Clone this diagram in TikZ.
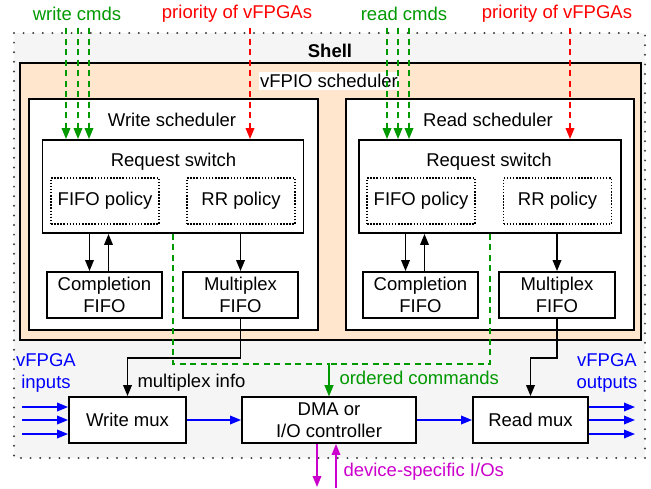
\documentclass[tikz,border=0pt]{standalone}
\usepackage{fontspec}
\setmainfont{Liberation Sans}
\usetikzlibrary{arrows.meta}
\definecolor{cmdgreen}{RGB}{0, 153, 0}
\definecolor{prired}{RGB}{255, 0, 0}
\definecolor{datablue}{RGB}{0, 0, 255}
\definecolor{iomagenta}{RGB}{204, 0, 204}
\definecolor{shellgray}{RGB}{245, 245, 245}
\definecolor{schedorange}{RGB}{255, 230, 204}
\tikzset{>={Triangle[length=11pt, width=8.5pt]}}

\begin{document}
\begin{tikzpicture}[
    x = 1pt, y = -1pt,
    font = \fontsize{18.5}{21.5}\selectfont,
    d0/.style = {line width = 1.8pt},
    blk/.style = {d0, draw, fill = white, align = center, inner sep = 0pt},
    pol/.style = {draw, line width = 1.5pt, dash pattern = on 1.5pt off 1.6pt, align = center, inner sep = 0pt,
                  minimum width = 108pt, minimum height = 46pt},
    cmd/.style = {d0, cmdgreen, dash pattern = on 6pt off 4.5pt, ->},
    pri/.style = {d0, prired, dash pattern = on 6pt off 4.5pt, ->},
    dat/.style = {d0, datablue, ->},
    io/.style = {d0, iomagenta, ->}
]
\useasboundingbox (0,0) rectangle (651,488);

\draw[fill = shellgray, draw = none] (14,33) rectangle (645,458);
\draw[black!75, line width = 2.2pt, line cap = round, dash pattern = on 0pt off 9.6pt] (14,33) rectangle (645,458);
\node (shell) at (330,51) {\bfseries Shell};

\draw[d0, fill = schedorange] (20,63) rectangle (641,340);
\node[fill = white, inner xsep = 1pt, inner ysep = 2pt] (vfpio) at (329,81) {vFPIO scheduler};

\draw[d0, fill = white] (29,99) rectangle (318,330);
\draw[d0, fill = white] (346,99) rectangle (634,330);
\node (wschedl) at (172,120) {Write scheduler};
\node (rschedl) at (488,120) {Read scheduler};

\node[blk, minimum width = 261pt, minimum height = 93pt] (wsw) at (173,186.5) {};
\node (wswl) at (173.5,162) {Request switch};
\node[pol] (wfifo) at (105,201) {FIFO policy};
\node[pol] (wrr) at (241,201) {RR policy};
\node[blk, minimum width = 115pt, minimum height = 46pt] (wcompl) at (104.5,295) {Completion\\FIFO};
\node[blk, minimum width = 115pt, minimum height = 46pt] (wmpx) at (240.5,295) {Multiplex\\FIFO};

\node[blk, minimum width = 262pt, minimum height = 93pt] (rsw) at (490,186.5) {};
\node (rswl) at (489,162) {Request switch};
\node[pol] (rfifo) at (421,201) {FIFO policy};
\node[pol] (rrr) at (557.5,201) {RR policy};
\node[blk, minimum width = 115pt, minimum height = 46pt] (rcompl) at (420.5,295) {Completion\\FIFO};
\node[blk, minimum width = 116pt, minimum height = 46pt] (rmpx) at (557,295) {Multiplex\\FIFO};

\node[blk, minimum width = 117pt, minimum height = 46pt] (wmux) at (127.5,420) {Write mux};
\node[blk, minimum width = 174pt, minimum height = 46pt] (dma) at (329,420) {DMA or\\I/O controller};
\node[blk, minimum width = 115pt, minimum height = 46pt] (rmux) at (530.5,420) {Read mux};

\draw[d0, ->] ([xshift = -15pt]wcompl.north |- wsw.south) -- ([xshift = -15pt]wcompl.north);
\draw[d0, ->] ([xshift = 4pt]wcompl.north) -- ([xshift = 4pt]wcompl.north |- wsw.south);
\draw[d0, ->] (wmpx.north |- wsw.south) -- (wmpx.north);
\draw[d0, ->] ([xshift = -15pt]rcompl.north |- rsw.south) -- ([xshift = -15pt]rcompl.north);
\draw[d0, ->] ([xshift = 4pt]rcompl.north) -- ([xshift = 4pt]rcompl.north |- rsw.south);
\draw[d0, ->] (rmpx.north |- rsw.south) -- (rmpx.north);

% commands and priorities from the top
\node[cmdgreen] (wcmdl) at (77,14) {write cmds};
\node[prired] (wpril) at (237,14) {priority of vFPGAs};
\node[cmdgreen] (rcmdl) at (404,14) {read cmds};
\node[prired] (rpril) at (557,14) {priority of vFPGAs};
\coordinate (wc1) at (66,28);
\coordinate (wc2) at (78,28);
\coordinate (wc3) at (89,28);
\coordinate (wp) at (250,28);
\coordinate (rc1) at (387,28);
\coordinate (rc2) at (398,28);
\coordinate (rc3) at (409,28);
\coordinate (rp) at (570,28);
\draw[cmd] (wc1) -- (wc1 |- wsw.north);
\draw[cmd] (wc2) -- (wc2 |- wsw.north);
\draw[cmd] (wc3) -- (wc3 |- wsw.north);
\draw[pri] (wp) -- (wp |- wsw.north);
\draw[cmd] (rc1) -- (rc1 |- rsw.north);
\draw[cmd] (rc2) -- (rc2 |- rsw.north);
\draw[cmd] (rc3) -- (rc3 |- rsw.north);
\draw[pri] (rp) -- (rp |- rsw.north);

\draw[cmd] (wsw.south) -- ++(0,130) -| (dma.north);
\draw[cmd] (rsw.south) -- ++(0,130) -| (dma.north);
\node[cmdgreen, anchor = west] (ordl) at (336,378) {ordered commands};

\draw[d0, ->] (wmpx.south) -- ++(0,39) -| (wmux.north);
\draw[d0, ->] (rmpx.south) -- ++(0,39) -| (rmux.north);
\node[anchor = west] (mpxl) at (134,383) {multiplex info};

% data path
\node[datablue, align = center] (inl) at (46,373) {vFPGA\\inputs};
\node[datablue, align = center] (outl) at (607,373) {vFPGA\\outputs};
\coordinate (in1) at (22,407);
\coordinate (in2) at (22,420);
\coordinate (in3) at (22,434);
\coordinate (out1) at (635,407);
\coordinate (out2) at (635,420);
\coordinate (out3) at (635,434);
\draw[dat] (in1) -- (in1 -| wmux.west);
\draw[dat] (in2) -- (in2 -| wmux.west);
\draw[dat] (in3) -- (in3 -| wmux.west);
\draw[dat] (wmux) -- (dma);
\draw[dat] (dma) -- (rmux);
\draw[dat] (out1 -| rmux.east) -- (out1);
\draw[dat] (out2 -| rmux.east) -- (out2);
\draw[dat] (out3 -| rmux.east) -- (out3);

\coordinate (io1) at (317,487);
\coordinate (io2) at (336,488);
\draw[io] (io1 |- dma.south) -- (io1);
\draw[io] (io2) -- (io2 |- dma.south);
\node[iomagenta, anchor = west] (iol) at (340,472) {device-specific I/Os};

\end{tikzpicture}
\end{document}
